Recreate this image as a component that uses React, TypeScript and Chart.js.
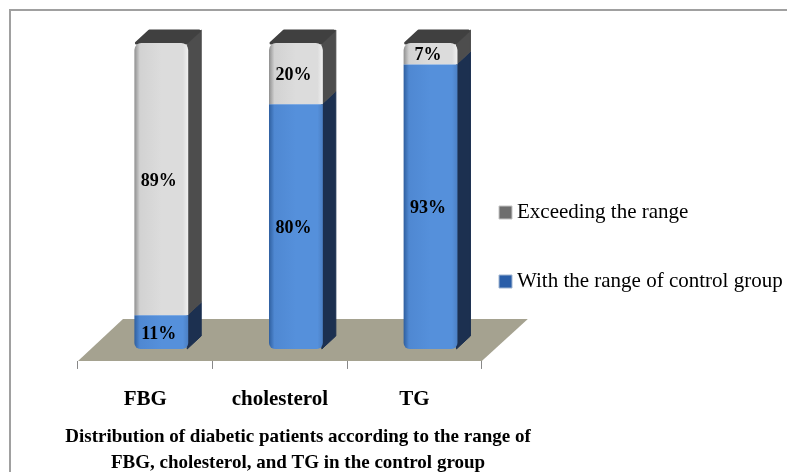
import React, { useEffect, useRef } from "react";
import { Chart, registerables } from "chart.js";

Chart.register(...registerables);

const categories = ["FBG", "cholesterol", "TG"];
const withinRange = [11, 80, 93];
const exceedingRange = [89, 20, 7];
const withinLabel = "With the range of control group";
const exceedingLabel = "Exceeding the range";
const caption = [
  "Distribution of diabetic patients according to the range of",
  "FBG, cholesterol, and TG in the control group",
];

const FONT = "'Liberation Serif', serif";
const DEPTH = 13;

function faceGradient(ctx: any, stops: string[]) {
  const chart = ctx.chart;
  const x = chart.scales.x;
  const half = (x.width / categories.length) * 0.2;
  const c = x.getPixelForValue(ctx.dataIndex);
  const g = chart.ctx.createLinearGradient(c - half, 0, c + half, 0);
  g.addColorStop(0, stops[0]);
  g.addColorStop(0.1, stops[1]);
  g.addColorStop(0.5, stops[2]);
  g.addColorStop(0.9, stops[2]);
  g.addColorStop(1, stops[3]);
  return g;
}

const stage3d = {
  id: "stage3d",
  beforeDraw(chart: any) {
    const { ctx } = chart;
    ctx.save();
    ctx.strokeStyle = "#a0a0a0";
    ctx.lineWidth = 2;
    ctx.beginPath();
    ctx.moveTo(10, 480);
    ctx.lineTo(10, 10);
    ctx.lineTo(790, 10);
    ctx.stroke();
    ctx.restore();
  },
  beforeDatasetsDraw(chart: any) {
    const { ctx, scales } = chart;
    const { left, right } = scales.x;
    const bottom = scales.y.bottom;
    ctx.save();
    ctx.fillStyle = "#a5a290";
    ctx.beginPath();
    ctx.moveTo(left, bottom);
    ctx.lineTo(right, bottom);
    ctx.lineTo(right + 46, bottom - 42);
    ctx.lineTo(left + 45, bottom - 42);
    ctx.closePath();
    ctx.fill();
    ctx.restore();

    ctx.save();
    ctx.translate(16, -12);
    ctx.lineJoin = "round";
    const sides = ["#1c3050", "#4d4d4d"];
    chart.data.datasets.forEach((_: any, di: number) => {
      chart.getDatasetMeta(di).data.forEach((bar: any) => {
        const r = bar.x + bar.width / 2;
        ctx.fillStyle = sides[di];
        ctx.strokeStyle = sides[di];
        ctx.lineWidth = 1;
        ctx.beginPath();
        ctx.moveTo(r - 1, bar.y);
        ctx.lineTo(r + DEPTH, bar.y - DEPTH);
        ctx.lineTo(r + DEPTH, bar.base - DEPTH);
        ctx.lineTo(r - 1, bar.base);
        ctx.closePath();
        ctx.fill();
        ctx.stroke();
        if (di === 1) {
          const l = bar.x - bar.width / 2;
          ctx.fillStyle = "#404040";
          ctx.strokeStyle = "#404040";
          ctx.lineWidth = 3;
          ctx.beginPath();
          ctx.moveTo(l + 2, bar.y);
          ctx.lineTo(l + DEPTH + 2, bar.y - DEPTH + 1);
          ctx.lineTo(r + DEPTH - 2, bar.y - DEPTH + 1);
          ctx.lineTo(r - 2, bar.y);
          ctx.closePath();
          ctx.fill();
          ctx.stroke();
        }
      });
    });
  },
  afterDatasetsDraw(chart: any) {
    const { ctx } = chart;
    ctx.fillStyle = "#000";
    ctx.font = `bold 18px ${FONT}`;
    ctx.textAlign = "center";
    ctx.textBaseline = "middle";
    chart.data.datasets.forEach((ds: any, di: number) => {
      chart.getDatasetMeta(di).data.forEach((bar: any, i: number) => {
        ctx.fillText(`${ds.data[i]}%`, bar.x - 2.5, (bar.y + bar.base) / 2 + 2);
      });
    });
    ctx.restore();
  },
  afterLayout(chart: any) {
    const legend = chart.legend;
    const dy = 247 - (legend.top + legend.bottom) / 2;
    legend.top += dy;
    legend.bottom += dy;
    const w = legend.right - legend.left;
    legend.left = 456.5;
    legend.right = legend.left + w;
    const title = chart.titleBlock;
    title.left = 0;
    title.right = 596;
  },
};

export default function App() {
  const ref = useRef<HTMLCanvasElement>(null);
  useEffect(() => {
    const chart = new Chart(ref.current as HTMLCanvasElement, {
      type: "bar",
      plugins: [stage3d],
      data: {
        labels: categories,
        datasets: [
          {
            label: withinLabel,
            data: withinRange,
            backgroundColor: (c: any) => faceGradient(c, ["#2f5f9f", "#4f88d2", "#5590db", "#4c80c4"]),
            borderRadius: { bottomLeft: 6, bottomRight: 6, topLeft: 0, topRight: 0 },
            borderSkipped: false,
          },
          {
            label: exceedingLabel,
            data: exceedingRange,
            backgroundColor: (c: any) => faceGradient(c, ["#8f8f8f", "#d2d2d2", "#dcdcdc", "#f0f0f0"]),
            borderRadius: { topLeft: 7, topRight: 7, bottomLeft: 0, bottomRight: 0 },
            borderSkipped: false,
          },
        ],
      },
      options: {
        responsive: false,
        animation: false,
        layout: { padding: { top: 55, left: 78, right: -31, bottom: -4 } },
        datasets: { bar: { barPercentage: 0.4, categoryPercentage: 1 } },
        scales: {
          x: {
            stacked: true,
            border: { display: false },
            grid: { drawOnChartArea: false, tickLength: 8, color: "#888" },
            ticks: { color: "#000", padding: 18, font: { family: FONT, size: 21, weight: "bold" } },
            afterFit: (scale: any) => {
              scale.height = 56;
            },
          },
          y: { stacked: true, min: 0, max: 100, display: false },
        },
        plugins: {
          tooltip: { enabled: false },
          title: {
            display: true,
            position: "bottom",
            text: caption,
            color: "#000",
            padding: { top: 7, bottom: 0 },
            font: { family: FONT, size: 19, weight: "bold", lineHeight: 1.37 },
          },
          legend: {
            position: "right",
            reverse: true,
            labels: {
              color: "#000",
              usePointStyle: true,
              boxWidth: 2,
              boxHeight: 13,
              padding: 48,
              font: { family: FONT, size: 21 },
              generateLabels: () => [
                { text: withinLabel, fillStyle: "#2a5ea8", strokeStyle: "#9fb4d0", lineWidth: 1, pointStyle: "rect", datasetIndex: 0 },
                { text: exceedingLabel, fillStyle: "#6e6e6e", strokeStyle: "#c4c4c4", lineWidth: 1, pointStyle: "rect", datasetIndex: 1 },
              ],
            },
          },
        },
      },
    } as any);
    return () => chart.destroy();
  }, []);
  return (
    <div style={{ position: "absolute", left: 0, top: 0, width: 787, height: 472, overflow: "hidden", background: "#fff" }}>
      <canvas ref={ref} width={787} height={472} style={{ display: "block" }} />
    </div>
  );
}
